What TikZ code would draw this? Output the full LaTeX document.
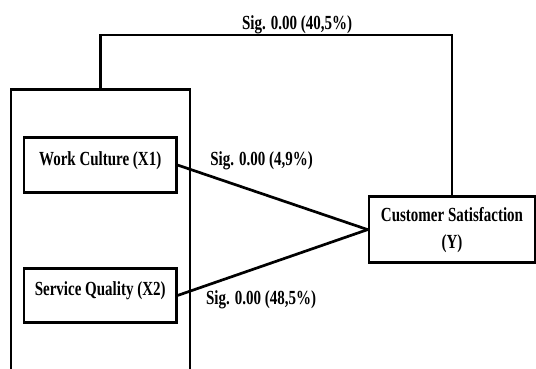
\documentclass[tikz,border=0pt]{standalone}
\usepackage{fontspec}
\newfontfamily\figfont[FakeStretch=0.75]{Liberation Serif}
\begin{document}
\begin{tikzpicture}[x=1pt,y=-1pt,
  box/.style={draw,line width=2.7pt,rectangle,inner sep=0pt,align=center,font=\figfont\fontsize{20}{27}\bfseries\selectfont},
  onebox/.style={box,text height=11pt,text depth=10pt},
  lbl/.style={inner sep=0pt,font=\figfont\fontsize{20}{24}\bfseries\selectfont},
  conn/.style={line width=2.7pt}]
\useasboundingbox (0,0) rectangle (536,369);
\clip (0,0) rectangle (536,369);
\node[box,minimum width=179pt,minimum height=320pt] (outer) at (100.5,249.5) {};
\node[onebox,minimum width=152.4pt,minimum height=54.7pt] (wc) at (100.2,165.1) {Work Culture (X1)};
\node[onebox,minimum width=152.4pt,minimum height=54pt] (sq) at (100.2,295.4) {Service Quality (X2)};
\node[box,minimum width=166pt,minimum height=66pt] (y) at (452,229.6) {Customer Satisfaction\\(Y)};
\draw[conn,line cap=rect] (outer.north) -- ++(0,-53) -| (y.north);
\draw[conn] (wc.east) -- (y.west);
\draw[conn] (sq.east) -- (y.west);
\node[lbl] (l1) at (297,24.6) {Sig. 0.00 (40,5\%)};
\node[lbl] (l2) at (261.5,160.7) {Sig. 0.00 (4,9\%)};
\node[lbl] (l3) at (261,300) {Sig. 0.00 (48,5\%)};
\end{tikzpicture}
\end{document}
